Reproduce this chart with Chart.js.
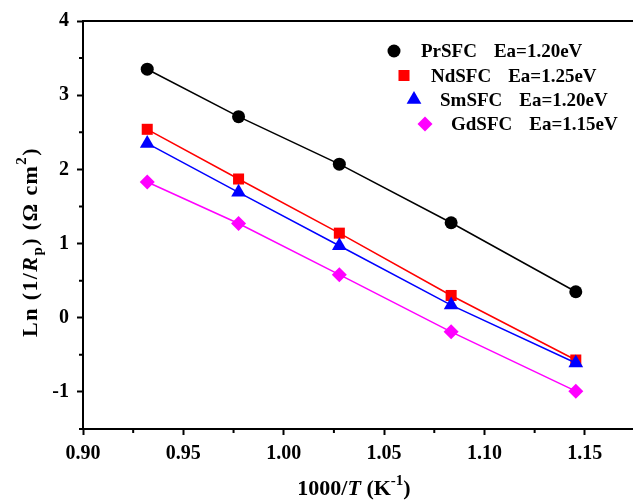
<!DOCTYPE html>
<html>
<head>
<meta charset="utf-8">
<script src="https://cdn.jsdelivr.net/npm/chart.js@4.4.0/dist/chart.umd.min.js"></script>
<style>
  html, body { margin: 0; padding: 0; background: #fff; }
  #wrap { width: 633px; height: 501px; position: relative; }
</style>
</head>
<body>
<div id="wrap"><canvas id="c"></canvas></div>
<script>
// ── Data ───────────────────────────────────────────────────────────────────
const invT   = [0.932, 0.9775, 1.0277, 1.0834, 1.1455];   // 1000/T (K^-1)
const prSFC  = [3.35, 2.71, 2.07, 1.28, 0.35];
const ndSFC  = [2.54, 1.87, 1.14, 0.30, -0.57];
const smSFC  = [2.35, 1.69, 0.97, 0.17, -0.61];
const gdSFC  = [1.83, 1.27, 0.58, -0.19, -0.99];

const seriesNames = ['PrSFC', 'NdSFC', 'SmSFC', 'GdSFC'];
const seriesEa    = ['Ea=1.20eV', 'Ea=1.25eV', 'Ea=1.20eV', 'Ea=1.15eV'];

const X_MIN = 0.90, X_MAX = 1.174, X_STEP = 0.025;
const Y_MIN = -1.5, Y_MAX = 4, Y_STEP = 0.5;

// ── Styling ────────────────────────────────────────────────────────────────
const SERIF = "'Liberation Serif', 'Times New Roman', serif";
const STYLES = [
  { color: '#000000', shape: 'circle',   radius: 6.5 },
  { color: '#ff0000', shape: 'rect',     radius: 7.8 },
  { color: '#0000ff', shape: 'triangle', radius: 8.5 },
  { color: '#ff00ff', shape: 'rectRot',  radius: 7.5 },
];

function pts(ys) {
  return invT.map((x, i) => ({ x, y: ys[i] }));
}

function makeDataset(i, ys) {
  const s = STYLES[i];
  return {
    label: seriesNames[i],
    data: pts(ys),
    showLine: true,
    borderColor: s.color,
    borderWidth: 1.5,
    backgroundColor: s.color,
    pointStyle: s.shape,
    pointRadius: s.radius,
    pointHoverRadius: s.radius,
    pointBackgroundColor: s.color,
    pointBorderColor: s.color,
    pointBorderWidth: 0,
    order: 4 - i,
  };
}

const isMajorX = (v) => Math.abs(Math.round(v / 0.05) * 0.05 - v) < 1e-6;
const isMajorY = (v) => Math.abs(Math.round(v) - v) < 1e-6;

// ── Plugin: frame, minor ticks, titles, legend ─────────────────────────────
function drawRich(ctx, parts, x, y, spacing) {
  // parts: [{t, italic, size, dy}] -- drawn centred on x
  const sp = spacing || 0;
  let total = 0;
  parts.forEach(p => {
    ctx.font = `${p.italic ? 'italic ' : ''}bold ${p.size || 22}px ${SERIF}`;
    p.w = ctx.measureText(p.t).width + sp * p.t.length;
    total += p.w;
  });
  let cx = x - total / 2;
  ctx.textAlign = 'left';
  ctx.textBaseline = 'alphabetic';
  parts.forEach(p => {
    ctx.font = `${p.italic ? 'italic ' : ''}bold ${p.size || 22}px ${SERIF}`;
    let px = cx;
    for (const ch of p.t) {
      ctx.fillText(ch, px, y + (p.dy || 0));
      px += ctx.measureText(ch).width + sp;
    }
    cx += p.w;
  });
}

function drawMarker(ctx, s, x, y) {
  ctx.save();
  ctx.fillStyle = s.color;
  ctx.strokeStyle = s.color;
  if (Chart.helpers && Chart.helpers.drawPoint) {
    Chart.helpers.drawPoint(ctx, { pointStyle: s.shape, radius: s.radius, rotation: 0, borderWidth: 0 }, x, y);
  } else {
    ctx.beginPath();
    ctx.arc(x, y, s.radius, 0, Math.PI * 2);
    ctx.fill();
  }
  ctx.restore();
}

const decorPlugin = {
  id: 'decor',
  afterDraw(chart) {
    const { ctx, chartArea: a, scales } = chart;
    ctx.save();
    ctx.strokeStyle = '#000';
    ctx.lineWidth = 2;

    // top frame line
    ctx.beginPath();
    ctx.moveTo(a.left - 1, a.top);
    ctx.lineTo(chart.width, a.top);
    ctx.stroke();

    // minor ticks
    ctx.beginPath();
    scales.x.ticks.forEach(t => {
      if (isMajorX(t.value)) return;
      const px = scales.x.getPixelForValue(t.value);
      ctx.moveTo(px, a.bottom);
      ctx.lineTo(px, a.bottom + 4);
    });
    scales.y.ticks.forEach(t => {
      if (isMajorY(t.value)) return;
      const py = scales.y.getPixelForValue(t.value);
      ctx.moveTo(a.left, py);
      ctx.lineTo(a.left - 4, py);
    });
    ctx.stroke();

    // axis titles
    ctx.fillStyle = '#000';
    drawRich(ctx, [
      { t: '1000/' },
      { t: 'T', italic: true },
      { t: ' (K' },
      { t: '-1', size: 15, dy: -10 },
      { t: ')' },
    ], 354, 495, 0);

    ctx.save();
    ctx.translate(37, 242);
    ctx.rotate(-Math.PI / 2);
    drawRich(ctx, [
      { t: 'Ln (1/' },
      { t: 'R', italic: true },
      { t: 'p', size: 15, dy: 5 },
      { t: ') (\u03A9 cm' },
      { t: '2', size: 15, dy: -11 },
      { t: ')' },
    ], 0, 0, 1.4);
    ctx.restore();

    // staggered legend
    const rows = [
      { mx: 394, my: 51, tx: 421, ty: 57 },
      { mx: 404, my: 75.5, tx: 431, ty: 81.5 },
      { mx: 414, my: 99.5, tx: 440, ty: 106 },
      { mx: 425, my: 124, tx: 451, ty: 130 },
    ];
    rows.forEach((r, i) => {
      drawMarker(ctx, STYLES[i], r.mx, r.my);
      ctx.fillStyle = '#000';
      ctx.font = `bold 19px ${SERIF}`;
      ctx.textAlign = 'left';
      ctx.textBaseline = 'alphabetic';
      ctx.fillText(seriesNames[i], r.tx, r.ty);
      const w = ctx.measureText(seriesNames[i]).width;
      ctx.fillText(seriesEa[i], r.tx + w + 17, r.ty);
    });
    ctx.restore();
  },
};

// ── Chart ──────────────────────────────────────────────────────────────────
const tickFont = { family: SERIF, size: 20, weight: 'bold' };

new Chart(document.getElementById('c'), {
  type: 'scatter',
  data: {
    datasets: [
      makeDataset(0, prSFC),
      makeDataset(1, ndSFC),
      makeDataset(2, smSFC),
      makeDataset(3, gdSFC),
    ],
  },
  options: {
    responsive: true,
    maintainAspectRatio: false,
    animation: false,
    layout: { autoPadding: false, padding: { top: 21, right: 0, left: 0, bottom: 0 } },
    plugins: {
      legend: { display: false },
      tooltip: { enabled: false },
    },
    scales: {
      x: {
        type: 'linear',
        min: X_MIN,
        max: X_MAX,
        afterFit: (s) => { s.height = 72; s.paddingLeft = 0; s.paddingRight = 0; },
        border: { display: true, color: '#000', width: 2 },
        grid: {
          drawOnChartArea: false,
          drawTicks: true,
          tickLength: 6,
          tickWidth: 2,
          tickColor: (c) => (c.tick && isMajorX(c.tick.value) ? '#000' : 'rgba(0,0,0,0)'),
        },
        ticks: {
          stepSize: X_STEP,
          includeBounds: false,
          autoSkip: false,
          maxRotation: 0,
          padding: 7,
          color: '#000',
          font: tickFont,
          callback: (v) => (isMajorX(v) ? Number(v).toFixed(2) : ''),
        },
      },
      y: {
        type: 'linear',
        min: Y_MIN,
        max: Y_MAX,
        afterFit: (s) => { s.width = 83; s.paddingTop = 0; s.paddingBottom = 0; },
        border: { display: true, color: '#000', width: 2 },
        grid: {
          drawOnChartArea: false,
          drawTicks: true,
          tickLength: 6,
          tickWidth: 2,
          tickColor: (c) => (c.tick && isMajorY(c.tick.value) ? '#000' : 'rgba(0,0,0,0)'),
        },
        ticks: {
          stepSize: Y_STEP,
          autoSkip: false,
          padding: 8,
          color: '#000',
          font: tickFont,
          callback: (v) => (isMajorY(v) ? String(Math.round(v)) : ''),
        },
      },
    },
  },
  plugins: [decorPlugin],
});
</script>
</body>
</html>
